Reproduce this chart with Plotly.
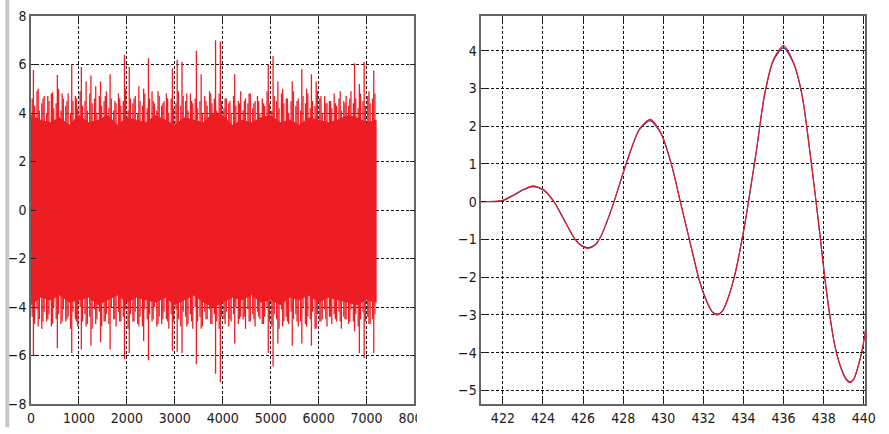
import plotly.graph_objects as go

# ---------------- left panel: noise signal (extremes)
bin_t = list(range(0, 7200, 100))
peak_hi = [5.77, 5.0, 4.6, 4.7, 4.86, 5.57, 4.8, 4.5, 6.0, 4.6,
           5.9, 5.3, 5.55, 5.1, 5.3, 4.7, 5.6, 4.5, 4.6, 6.4,
           5.9, 4.6, 5.1, 5.0, 6.26, 4.5, 4.9, 4.4, 4.6, 5.85,
           6.2, 6.1, 4.8, 4.5, 6.57, 5.6, 4.5, 4.8, 7.0, 6.95,
           4.6, 4.5, 5.6, 4.4, 4.5, 4.8, 4.4, 4.5, 4.4, 6.0,
           6.35, 5.3, 5.0, 4.6, 5.3, 4.5, 5.8, 5.0, 5.6, 5.3,
           4.7, 4.4, 4.5, 4.4, 4.9, 4.4, 4.6, 6.05, 5.2, 6.1,
           4.9, 5.75]
peak_lo = [-6.0, -4.8, -4.6, -4.5, -4.7, -5.7, -4.6, -4.5, -5.9, -4.6,
           -5.75, -4.8, -5.6, -4.7, -5.45, -4.6, -5.75, -4.5, -4.6, -6.15,
           -5.9, -4.6, -4.8, -5.4, -6.2, -4.5, -4.7, -4.5, -4.6, -5.8,
           -5.85, -5.9, -4.8, -4.6, -6.36, -4.9, -4.5, -4.7, -6.75, -7.1,
           -4.7, -4.5, -5.5, -4.5, -4.4, -4.6, -4.5, -4.4, -4.7, -5.9,
           -6.45, -5.5, -4.8, -4.6, -5.6, -4.6, -5.5, -4.8, -5.6, -4.9,
           -4.6, -4.5, -4.4, -4.5, -4.6, -4.5, -4.6, -5.0, -5.9, -6.1,
           -4.7, -5.9]

mid_t = list(range(0, 7200, 50))
mid_hi = [4.6, 4.3, 4.9, 4.1, 4.4, 4.7, 4.0, 4.5, 4.8, 4.2,
          4.4, 5.0, 4.1, 4.6, 4.3, 4.8, 4.0, 4.5, 4.7, 4.2,
          4.9, 4.3, 4.5, 4.1, 4.8, 4.4, 4.6, 4.0, 4.7, 4.3,
          4.5, 4.9, 4.2, 4.6, 4.1, 4.4, 4.8, 4.3, 4.5, 5.0,
          4.1, 4.6, 4.4, 4.7, 4.0, 4.5, 4.3, 4.8, 4.2, 4.6,
          4.9, 4.4, 4.1, 4.7, 4.3, 4.5, 4.8, 4.0, 4.6, 4.2,
          4.4, 4.9, 4.3, 4.7, 4.5, 4.1, 4.8, 4.4, 4.6, 4.2,
          4.5, 4.0, 4.7, 4.3, 4.9, 4.4, 4.6, 4.1, 4.8, 4.5,
          4.2, 4.6, 4.4, 4.0, 4.7, 4.3, 4.5, 4.9, 4.1, 4.6,
          4.4, 4.8, 4.2, 4.5, 4.7, 4.0, 4.6, 4.3, 4.9, 4.4,
          4.1, 4.7, 4.5, 4.2, 4.8, 4.4, 4.6, 4.0, 4.5, 4.9,
          4.3, 4.6, 4.1, 4.7, 4.4, 4.8, 4.2, 4.5, 4.3, 4.9,
          4.6, 4.0, 4.7, 4.4, 4.5, 4.2, 4.8, 4.3, 4.6, 4.1,
          4.5, 4.7, 4.3, 4.9, 4.4, 4.6, 4.2, 4.8, 4.5, 4.3,
          4.7, 4.4, 4.6, 4.8]
mid_lo = [-4.4, -4.7, -4.1, -4.5, -4.9, -4.2, -4.6, -4.3, -4.8, -4.0,
          -4.5, -4.3, -4.7, -4.1, -4.6, -4.4, -4.9, -4.2, -4.5, -4.8,
          -4.0, -4.6, -4.3, -4.7, -4.4, -4.9, -4.1, -4.5, -4.2, -4.8,
          -4.6, -4.3, -4.7, -4.0, -4.5, -4.8, -4.2, -4.6, -4.4, -4.1,
          -4.9, -4.3, -4.6, -4.2, -4.7, -4.4, -4.8, -4.1, -4.5, -4.3,
          -4.6, -4.0, -4.8, -4.4, -4.7, -4.2, -4.5, -4.9, -4.3, -4.6,
          -4.1, -4.5, -4.8, -4.2, -4.4, -4.7, -4.3, -4.9, -4.0, -4.6,
          -4.4, -4.8, -4.2, -4.5, -4.1, -4.7, -4.3, -4.6, -4.9, -4.4,
          -4.5, -4.2, -4.8, -4.6, -4.3, -4.0, -4.7, -4.4, -4.5, -4.9,
          -4.1, -4.6, -4.3, -4.8, -4.2, -4.5, -4.7, -4.4, -4.0, -4.6,
          -4.8, -4.3, -4.5, -4.9, -4.1, -4.6, -4.4, -4.7, -4.2, -4.5,
          -4.3, -4.8, -4.6, -4.0, -4.7, -4.4, -4.5, -4.2, -4.9, -4.3,
          -4.6, -4.5, -4.1, -4.8, -4.4, -4.7, -4.3, -4.6, -4.2, -4.9,
          -4.4, -4.5, -4.7, -4.1, -4.6, -4.3, -4.8, -4.5, -4.2, -4.6,
          -4.4, -4.7, -4.5, -4.3]

core_t = list(range(0, 7201, 200))
core_hi = [3.9, 3.7, 3.6, 3.8, 3.5, 3.9, 3.6, 3.7, 3.9, 3.5, 3.8, 3.7, 3.6,
           3.9, 3.7, 3.5, 3.8, 3.7, 3.6, 4.0, 3.9, 3.5, 3.7, 3.6, 3.8, 3.9,
           3.6, 3.7, 3.5, 3.8, 3.7, 3.6, 3.7, 3.9, 3.8, 3.6, 3.7]
core_lo = [-3.9, -3.6, -3.7, -3.5, -3.8, -3.7, -3.6, -3.9, -3.7, -3.5, -3.8,
           -3.6, -3.7, -3.8, -3.6, -3.9, -3.7, -3.5, -3.8, -4.0, -3.8, -3.6,
           -3.7, -3.5, -3.8, -3.7, -3.9, -3.6, -3.7, -3.5, -3.8, -3.6, -3.7,
           -3.8, -3.9, -3.7, -3.8]

# ---------------- right panel: zoomed waveform (two nearly identical curves)
wave_x = [420.9, 421.5, 422.0, 422.5, 423.0, 423.5, 424.0, 424.55, 425.0, 425.6,
          425.95, 426.25, 426.6, 426.9, 427.45, 428.2, 428.8, 429.35, 429.9, 430.4,
          430.85, 431.3, 431.8, 432.2, 432.45, 432.7, 432.95, 433.2, 433.6, 434.06,
          434.25, 434.64, 435.05, 435.5, 436.0, 436.5, 436.93, 437.4, 437.62, 437.84,
          438.05, 438.3, 438.55, 438.85, 439.1, 439.3, 439.5, 439.8, 439.93, 440.1]
red_y = [0.0, 0.01, 0.04, 0.17, 0.32, 0.42, 0.33, 0.0, -0.42, -1.0,
         -1.18, -1.24, -1.15, -0.9, -0.15, 1.1, 1.92, 2.18, 1.8, 1.0,
         0.0, -1.0, -2.1, -2.7, -2.93, -3.0, -2.9, -2.6, -1.85, -0.6,
         0.0, 1.35, 2.85, 3.78, 4.14, 3.68, 2.8, 0.95, 0.0, -1.0,
         -2.0, -3.0, -3.8, -4.4, -4.7, -4.79, -4.7, -4.2, -3.9, -3.35]
blue_y = [0.0, 0.0, 0.03, 0.16, 0.31, 0.40, 0.32, 0.0, -0.43, -1.0,
          -1.17, -1.22, -1.14, -0.9, -0.15, 1.08, 1.9, 2.15, 1.79, 1.0,
          0.0, -1.0, -2.08, -2.68, -2.92, -2.98, -2.9, -2.6, -1.87, -0.62,
          0.0, 1.33, 2.82, 3.75, 4.08, 3.66, 2.8, 0.95, 0.0, -1.0,
          -2.0, -3.0, -3.8, -4.38, -4.68, -4.77, -4.7, -4.2, -3.9, -3.35]

left_xticks = list(range(0, 8001, 1000))
left_yticks = list(range(-8, 9, 2))
right_xticks = list(range(422, 441, 2))
right_yticks = list(range(-5, 5, 1))

RED = "#ee1d24"

fig = go.Figure()

# dense core of noise
fig.add_trace(go.Scatter(
    x=core_t + core_t[::-1], y=core_hi + core_lo[::-1],
    fill="toself", fillcolor=RED, line=dict(color=RED, width=1),
    mode="lines", hoverinfo="skip", showlegend=False, xaxis="x", yaxis="y"))

# medium strokes (every 50 samples)
mx, my = [], []
for t, hi, lo in zip(mid_t, mid_hi, mid_lo):
    mx += [t + 25, t + 25, None]
    my += [lo, hi, None]
fig.add_trace(go.Scatter(x=mx, y=my, mode="lines",
                         line=dict(color=RED, width=1.3),
                         hoverinfo="skip", showlegend=False, xaxis="x", yaxis="y"))

# largest spikes per 100-sample bin
sx, sy = [], []
for t, hi, lo in zip(bin_t, peak_hi, peak_lo):
    sx += [t + 50, t + 50, None]
    sy += [lo, hi, None]
fig.add_trace(go.Scatter(x=sx, y=sy, mode="lines",
                         line=dict(color=RED, width=1.3),
                         hoverinfo="skip", showlegend=False, xaxis="x", yaxis="y"))

fig.add_trace(go.Scatter(x=wave_x, y=blue_y, mode="lines",
                         line=dict(color="#2b2f9e", width=1.2, shape="spline", smoothing=0.7),
                         showlegend=False, xaxis="x2", yaxis="y2"))
fig.add_trace(go.Scatter(x=wave_x, y=red_y, mode="lines",
                         line=dict(color="#f21a1a", width=1.1, shape="spline", smoothing=0.7),
                         showlegend=False, xaxis="x2", yaxis="y2"))

FONT = dict(family="DejaVu Sans Condensed, Liberation Sans, Arial", size=14, color="#1a1a1a")
common = dict(showgrid=True, gridcolor="#111111", gridwidth=1, griddash="3px,2px",
              zeroline=False, showline=True, linecolor="#666666", linewidth=1.5,
              mirror="ticks", ticks="inside", ticklen=5, tickcolor="#222222",
              tickfont=FONT)

L0, L1 = 0.0, (415 - 26) / 846
R0, R1 = (482.7 - 26) / 846, 1.0

fig.update_layout(
    width=889, height=434,
    margin=dict(l=26, r=17, t=8, b=24),
    paper_bgcolor="white", plot_bgcolor="white",
    xaxis=dict(domain=[L0, L1], range=[0, 8000], tickvals=left_xticks, anchor="y", **common),
    yaxis=dict(domain=[0, 1], range=[-8, 8], tickvals=left_yticks, anchor="x", **common),
    xaxis2=dict(domain=[R0, R1], range=[420.92, 440.06], tickvals=right_xticks, anchor="y2", **common),
    yaxis2=dict(domain=[0, 1], range=[-5.36, 4.92], tickvals=right_yticks, anchor="x2", **common),
    shapes=[
        dict(type="rect", xref="paper", yref="paper",
             x0=-26 / 846, x1=-22 / 846, y0=-24 / 402, y1=426 / 402,
             fillcolor="#c8c8c8", line=dict(width=0), layer="above"),
        dict(type="rect", xref="paper", yref="paper",
             x0=(417.5 - 26) / 846, x1=(450 - 26) / 846, y0=-24 / 402, y1=-1.5 / 402,
             fillcolor="white", line=dict(width=0), layer="above"),
    ],
)

fig.write_html("out.html")
